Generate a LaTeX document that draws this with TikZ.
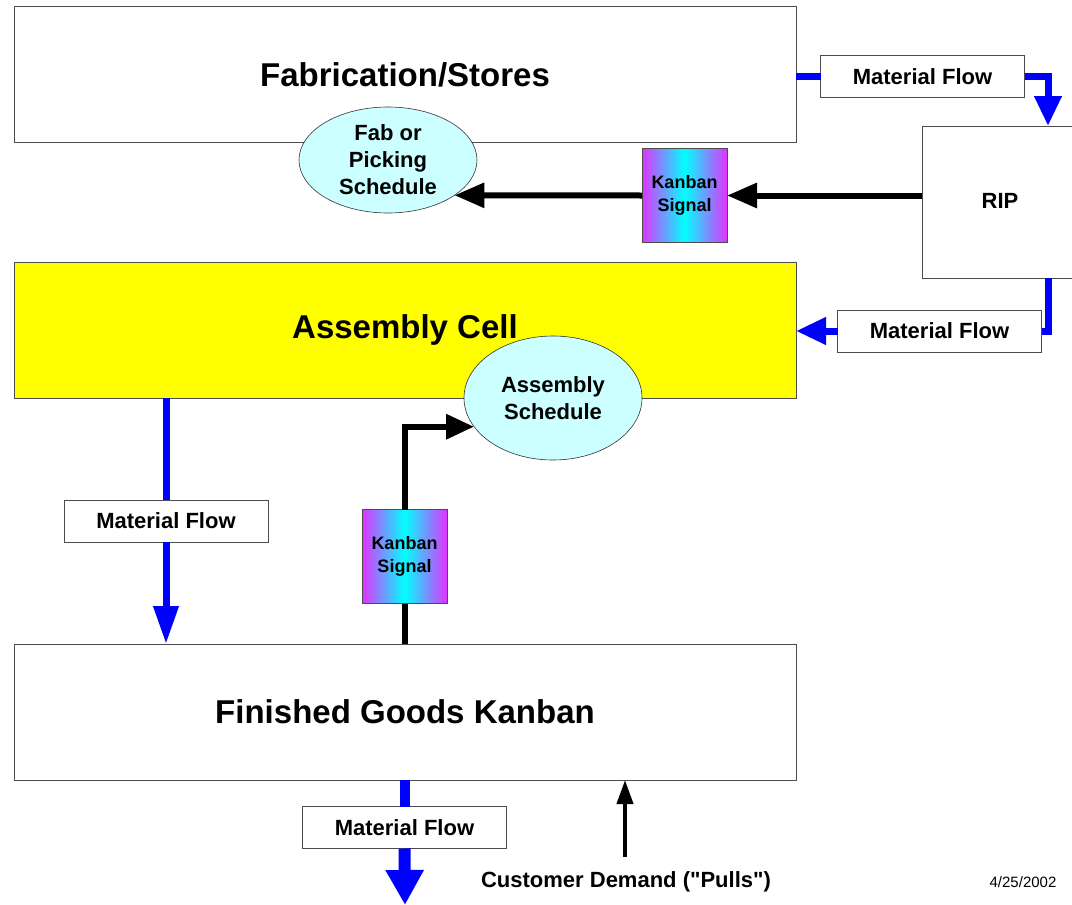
\documentclass[tikz,border=0pt]{standalone}
\usepackage{fontspec}
\setmainfont{Liberation Sans}
\newfontfamily\plainquotes{Liberation Sans}[Ligatures=ResetAll]
\usetikzlibrary{arrows.meta,shapes.geometric}
\definecolor{schedfill}{RGB}{204,255,255}
\definecolor{kanbanedge}{RGB}{225,50,255}
\definecolor{cellyellow}{RGB}{255,255,0}

\begin{document}
\begin{tikzpicture}[
		x=1pt, y=-1pt,
		every node/.style={outer sep=0pt, inner sep=0pt, font=\bfseries},
		area/.style={rectangle, draw=black!70, line width=0.8pt, minimum width=782pt, minimum height=136pt, font=\fontsize{33}{36}\selectfont\bfseries},
		sched/.style={ellipse, draw=black!80, fill=schedfill, line width=0.6pt, align=center, font=\fontsize{22}{27}\selectfont\bfseries},
		kanban/.style={rectangle, draw=black!70, line width=0.6pt, minimum width=85pt, minimum height=94pt, left color=kanbanedge, right color=kanbanedge, middle color=cyan, shading angle=90, align=center, font=\fontsize{18}{23}\selectfont\bfseries},
		flowbox/.style={rectangle, draw=black!70, line width=0.6pt, fill=white, minimum width=204pt, minimum height=42pt, font=\fontsize{22}{24}\selectfont\bfseries},
		flow/.style={draw=blue, line width=7pt},
		signal/.style={draw=black, line width=6pt}
	]
  \useasboundingbox (0,0) rectangle (1072,905);
  \fill[white] (0,0) rectangle (1072,905);
  \node (fab) [area] at (405, 74.5) {Fabrication/Stores};
  \node (rip) [rectangle, draw=black!70, line width=0.8pt, minimum width=160pt, minimum height=152pt, anchor=west] at (922, 202) {};
  \node (rip_label) at (1000, 201) {\fontsize{22}{24}\selectfont RIP};
  \node (asm) [area, fill=cellyellow] at (405, 330) {Assembly Cell};
  \node (fg) [area] at (405, 712) {Finished Goods Kanban};
  \node (fab_sched) [sched, minimum width=178pt, minimum height=106pt] at (388, 160) {Fab or\\Picking\\Schedule};
  \node (asm_sched) [sched, minimum width=178pt, minimum height=124pt] at (553, 398) {Assembly\\Schedule};
  \node (kanban_top) [kanban] at (684.5, 195.5) {Kanban\\Signal};
  \node (kanban_low) [kanban] at (404.5, 556.5) {Kanban\\Signal};
  \node (flow_top) [flowbox] at (922.5, 76.5) {Material Flow};
  \node (flow_right) [flowbox] at (939.5, 331) {Material Flow};
  \node (flow_left) [flowbox] at (166, 521) {Material Flow};
  \node (flow_low) [flowbox] at (404.5, 827.5) {Material Flow};
  \node (demand) [font=\plainquotes\fontsize{22}{24}\selectfont\bfseries] at (626, 882) {Customer Demand ("Pulls")};
  \node (date) [font=\fontsize{15}{17}\selectfont] at (1023, 882) {4/25/2002};
  \coordinate (sink) at (405, 905);
  \coordinate (demand_top) at (625, 857);
  % material flow
  \draw[flow] (fab.east |- flow_top.west) -- (flow_top.west);
  \draw[flow, -{Triangle[length=30pt, width=26pt]}] (flow_top.east) -| (rip.north -| 1048,0);
  \draw[flow] (rip.south -| 1048,0) |- (flow_right.east);
  \draw[flow, -{Triangle[length=30pt, width=26pt]}] (flow_right.west) -- (asm.east |- flow_right.west);
  \draw[flow] (asm.south -| flow_left.north) -- (flow_left.north);
  \draw[flow, -{Triangle[length=38pt, width=24pt]}] (flow_left.south) -- (fg.north -| flow_left.south);
  \draw[flow, line width=10pt] (fg.south -| flow_low.north) -- (flow_low.north);
  \draw[flow, line width=12pt, -{Triangle[length=35pt, width=36pt]}] (flow_low.south) -- (sink);
  % kanban signals
  \draw[signal, -{Triangle[length=30pt, width=24pt]}] (rip.west |- kanban_top.east) -- (kanban_top.east);
  \draw[signal, -{Triangle[length=30pt, width=24pt]}] (kanban_top.west) -- (fab_sched.-28);
  \draw[signal] (fg.north -| kanban_low.south) -- (kanban_low.south);
  \draw[signal, -{Triangle[length=28pt, width=24pt]}] (kanban_low.north) |- (asm_sched.-160);
  \draw[draw=black, line width=4pt, -{Triangle[length=24pt, width=16pt]}] (demand_top) -- (fg.south -| demand_top);
\end{tikzpicture}
\end{document}
